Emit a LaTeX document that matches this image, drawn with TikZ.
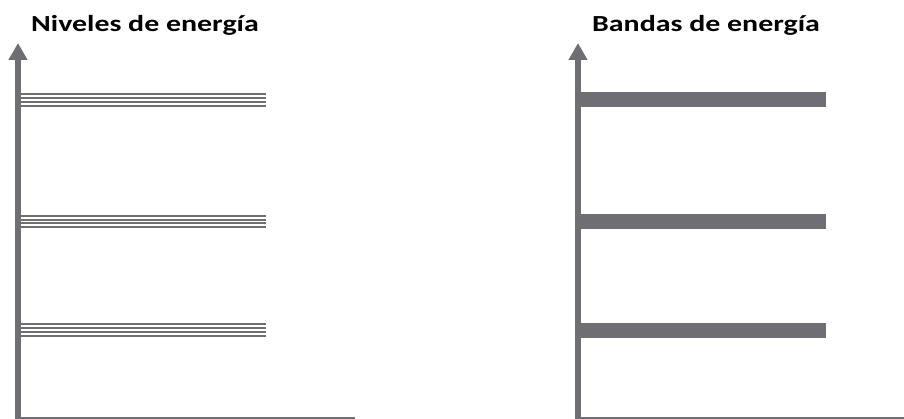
\documentclass[tikz,border=0pt]{standalone}
\usepackage{fontspec}
\setmainfont{Carlito}
\usetikzlibrary{arrows.meta}
\definecolor{axisgrey}{RGB}{110,110,115}
\begin{document}
\begin{tikzpicture}[x=1pt,y=-1pt,
  axisline/.style={draw=axisgrey,line width=5.5pt,-{Triangle[length=17pt,width=18pt]}},
  baseline/.style={draw=axisgrey,line width=2pt},
  levelline/.style={draw=axisgrey,line width=2pt},
  bandline/.style={draw=axisgrey,line width=15pt},
  title/.style={font=\bfseries\fontsize{23}{27}\selectfont,anchor=base}]
\useasboundingbox (0,0) rectangle (904,419);
\fill[white] (0,0) rectangle (904,419);
% titles
\node[title] (t1) at (145,31.7) {\scalebox{1.3}[1]{Niveles de energía}};
\node[title] (t2) at (706,31.7) {\scalebox{1.3}[1]{Bandas de energía}};
% left axes
\coordinate (l0) at (18,419);
\coordinate (ltop) at (18,43);
\draw[axisline] (l0) -- (ltop);
\coordinate (lb0) at (15,417.8);
\coordinate (lb1) at (355,417.8);
\draw[baseline] (lb0) -- (lb1);
% left levels
\foreach \y in {94.3,98.4,102.5,106.5, 216,219.9,223.3,227.3, 324.2,328.2,332.4,335.9}{
  \draw[levelline] (20.5,\y) -- (266,\y);
}
% right axes
\coordinate (r0) at (578,419);
\coordinate (rtop) at (578,43);
\draw[axisline] (r0) -- (rtop);
\coordinate (rb0) at (575,417.8);
\coordinate (rb1) at (904,417.8);
\draw[baseline] (rb0) -- (rb1);
% bands
\foreach \y in {100,221.7,330}{
  \draw[bandline] (580.5,\y) -- (826,\y);
}
\end{tikzpicture}
\end{document}
